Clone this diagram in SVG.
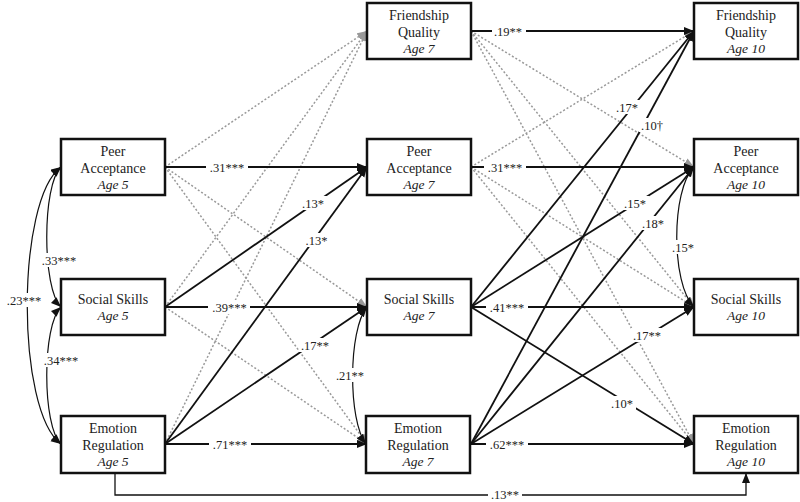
<svg xmlns="http://www.w3.org/2000/svg" width="800" height="502" viewBox="0 0 800 502" font-family="'Liberation Serif', 'Times New Roman', Times, serif">
<style>
.box{fill:#fff;stroke:#111;stroke-width:2.5}
.t{font-family:'Liberation Serif','Times New Roman',Times,serif;font-size:14px;fill:#222;text-anchor:middle}
.age{font-style:italic;font-size:13.5px}
.lab{font-family:'Liberation Serif','Times New Roman',Times,serif;font-size:12.5px;fill:#222;text-anchor:middle}
.s{fill:none;stroke:#111;stroke-width:1.8;marker-end:url(#ab)}
.d{fill:none;stroke:#999;stroke-width:1.5;stroke-dasharray:2 2;marker-end:url(#ag)}
.c{fill:none;stroke:#111;stroke-width:1.2;marker-start:url(#ac);marker-end:url(#ac)}
.bg{fill:#fff}
</style>
<defs>
<marker id="ab" markerUnits="userSpaceOnUse" markerWidth="11" markerHeight="9" refX="10" refY="4" orient="auto"><path d="M0,0 L10,4 L0,8 z" fill="#111"/></marker>
<marker id="ag" markerUnits="userSpaceOnUse" markerWidth="11" markerHeight="9" refX="10" refY="4" orient="auto"><path d="M0,0 L10,4 L0,8 z" fill="#999"/></marker>
<marker id="ac" markerUnits="userSpaceOnUse" markerWidth="11" markerHeight="9" refX="10" refY="4" orient="auto-start-reverse"><path d="M0,0 L10,4 L0,8 z" fill="#111"/></marker>
</defs>
<rect width="800" height="502" fill="#fff"/>
<g id="connectors">
<path class="d" d="M165,167 L367,31"/>
<path class="d" d="M165,307 L367,31"/>
<path class="d" d="M165,444 L367,31"/>
<path class="d" d="M165,167 L367,307"/>
<path class="d" d="M165,167 L367,444"/>
<path class="d" d="M165,307 L367,444"/>
<path class="d" d="M471,31 L694,167"/>
<path class="d" d="M471,31 L694,307"/>
<path class="d" d="M471,31 L694,444"/>
<path class="d" d="M471,167 L694,31"/>
<path class="d" d="M471,167 L694,307"/>
<path class="d" d="M471,167 L694,444"/>
<path class="s" d="M165,167 L367,167"/>
<path class="s" d="M165,307 L367,167"/>
<path class="s" d="M165,444 L367,167"/>
<path class="s" d="M165,307 L367,307"/>
<path class="s" d="M165,444 L367,307"/>
<path class="s" d="M165,444 L367,444"/>
<path class="s" d="M471,31 L694,31"/>
<path class="s" d="M471,167 L694,167"/>
<path class="s" d="M471,307 L694,307"/>
<path class="s" d="M471,444 L694,444"/>
<path class="s" d="M471,307 L694,31"/>
<path class="s" d="M471,444 L694,31"/>
<path class="s" d="M471,307 L694,167"/>
<path class="s" d="M471,444 L694,167"/>
<path class="s" d="M471,444 L694,307"/>
<path class="s" d="M471,307 L694,444"/>
<path class="s" style="stroke-width:1.3" d="M115,473 L115,495 L746,495 L746,473"/>
<path class="c" d="M61,167 C42,185 42,289 61,307"/>
<path class="c" d="M61,307 C42,325 42,426 61,444"/>
<path class="c" d="M61,167 C16,200 16,411 61,444"/>
<path class="c" d="M367,307 C348,330 348,421 366,444"/>
<path class="c" d="M694,167 C671,190 671,284 694,307"/>
</g>
<g id="labels">
<rect class="bg" x="206" y="160" width="42" height="14"/><text class="lab" x="227" y="171.5">.31***</text>
<rect class="bg" x="208" y="300" width="42" height="14"/><text class="lab" x="229.5" y="311.5">.39***</text>
<rect class="bg" x="209" y="437" width="42" height="14"/><text class="lab" x="230" y="448.5">.71***</text>
<rect class="bg" x="300" y="196" width="27" height="14"/><text class="lab" x="313" y="207.5">.13*</text>
<rect class="bg" x="303" y="233" width="27" height="14"/><text class="lab" x="316.5" y="244.5">.13*</text>
<rect class="bg" x="299" y="338" width="33" height="14"/><text class="lab" x="315" y="349.5">.17**</text>
<rect class="bg" x="492" y="24" width="34" height="14"/><text class="lab" x="508" y="35.5">.19**</text>
<rect class="bg" x="484" y="160" width="42" height="14"/><text class="lab" x="505" y="171.5">.31***</text>
<rect class="bg" x="486" y="300" width="42" height="14"/><text class="lab" x="507" y="311.5">.41***</text>
<rect class="bg" x="486" y="437" width="42" height="14"/><text class="lab" x="507" y="448.5">.62***</text>
<rect class="bg" x="488" y="488" width="34" height="14"/><text class="lab" x="505" y="498.5">.13**</text>
<rect class="bg" x="614" y="100" width="27" height="14"/><text class="lab" x="627" y="111.5">.17*</text>
<rect class="bg" x="639" y="118" width="27" height="14"/><text class="lab" x="652" y="129.5">.10†</text>
<rect class="bg" x="622" y="196" width="27" height="14"/><text class="lab" x="635" y="207.5">.15*</text>
<rect class="bg" x="640" y="216" width="27" height="14"/><text class="lab" x="653" y="227.5">.18*</text>
<rect class="bg" x="670" y="240" width="27" height="14"/><text class="lab" x="683" y="251.5">.15*</text>
<rect class="bg" x="631" y="328" width="33" height="14"/><text class="lab" x="647" y="339.5">.17**</text>
<rect class="bg" x="609" y="396" width="27" height="14"/><text class="lab" x="622" y="407.5">.10*</text>
<rect class="bg" x="38" y="253" width="42" height="14"/><text class="lab" x="59" y="264.5">.33***</text>
<rect class="bg" x="40" y="353" width="42" height="14"/><text class="lab" x="61" y="364.5">.34***</text>
<rect class="bg" x="3" y="293" width="42" height="14"/><text class="lab" x="24" y="304.5">.23***</text>
<rect class="bg" x="336" y="368" width="30" height="14"/><text class="lab" x="350" y="379.5">.21**</text>
</g>
<g id="pa5"><rect class="box" x="61" y="139" width="104" height="56"/><text class="t" x="113" y="156">Peer</text><text class="t" x="113" y="173">Acceptance</text><text class="t age" x="113" y="189">Age 5</text></g>
<g id="ss5"><rect class="box" x="61" y="279" width="104" height="56"/><text class="t" x="113" y="304">Social Skills</text><text class="t age" x="113" y="320">Age 5</text></g>
<g id="er5"><rect class="box" x="61" y="416" width="104" height="57"/><text class="t" x="113" y="433">Emotion</text><text class="t" x="113" y="450">Regulation</text><text class="t age" x="113" y="466">Age 5</text></g>
<g id="fq7"><rect class="box" x="367" y="3" width="104" height="56"/><text class="t" x="419" y="20">Friendship</text><text class="t" x="419" y="37">Quality</text><text class="t age" x="419" y="53">Age 7</text></g>
<g id="pa7"><rect class="box" x="367" y="139" width="104" height="56"/><text class="t" x="419" y="156">Peer</text><text class="t" x="419" y="173">Acceptance</text><text class="t age" x="419" y="189">Age 7</text></g>
<g id="ss7"><rect class="box" x="367" y="279" width="104" height="56"/><text class="t" x="419" y="304">Social Skills</text><text class="t age" x="419" y="320">Age 7</text></g>
<g id="er7"><rect class="box" x="366" y="416" width="104" height="57"/><text class="t" x="418" y="433">Emotion</text><text class="t" x="418" y="450">Regulation</text><text class="t age" x="418" y="466">Age 7</text></g>
<g id="fq10"><rect class="box" x="694" y="3" width="104" height="56"/><text class="t" x="746" y="20">Friendship</text><text class="t" x="746" y="37">Quality</text><text class="t age" x="746" y="53">Age 10</text></g>
<g id="pa10"><rect class="box" x="694" y="139" width="104" height="56"/><text class="t" x="746" y="156">Peer</text><text class="t" x="746" y="173">Acceptance</text><text class="t age" x="746" y="189">Age 10</text></g>
<g id="ss10"><rect class="box" x="694" y="279" width="104" height="56"/><text class="t" x="746" y="304">Social Skills</text><text class="t age" x="746" y="320">Age 10</text></g>
<g id="er10"><rect class="box" x="694" y="416" width="104" height="57"/><text class="t" x="746" y="433">Emotion</text><text class="t" x="746" y="450">Regulation</text><text class="t age" x="746" y="466">Age 10</text></g>
</svg>
